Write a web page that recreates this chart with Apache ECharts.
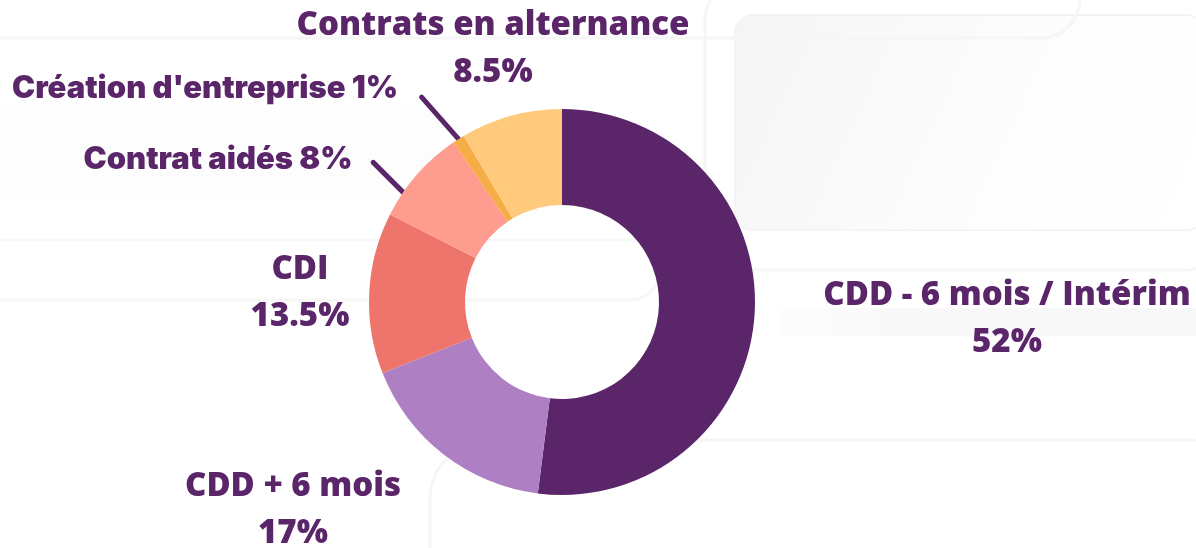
<!DOCTYPE html>
<html>
<head>
<meta charset="utf-8">
<script src="https://cdn.jsdelivr.net/npm/echarts@6/dist/echarts.min.js"></script>
<style>
html,body{margin:0;padding:0;background:#ffffff;}
#chart{width:1196px;height:548px;}
</style>
</head>
<body>
<div id="chart"></div>
<script>
// ---- data ----
var categories = ['CDD - 6 mois / Intérim', 'CDD + 6 mois', 'CDI', 'Contrat aidés', "Création d'entreprise", 'Contrats en alternance'];
var values = [52, 17, 13.5, 8, 1, 8.5];
var sliceColors = ['#5B2669', '#AF7FC4', '#EE756B', '#FF9C90', '#F7AD45', '#FFCA7B'];
var singleLine = [false, false, false, true, true, false];

// ---- label placement (styling) ----
var labelPos = [[1007, 319], [293, 510], [300, 293], [218, 160], [205, 89], [493, 49]];
var leaderOffsets = {3: [[-14, 18], [-44, -12]], 4: [[0, 0], [-37, -42]]};

var textColor = '#5B2569';
var mainFont = "'Open Sans', 'Noto Sans', sans-serif";
var data = categories.map(function (name, i) {
  var item = {
    name: name,
    value: values[i],
    itemStyle: {color: sliceColors[i]},
    label: singleLine[i] ? {
      formatter: '{b} {c}%',
      fontFamily: 'Inter',
      fontWeight: 900,
      fontSize: 31
    } : {
      formatter: '{b}\n{c}%',
      fontFamily: mainFont,
      fontWeight: 800,
      fontSize: 33
    }
  };
  if (leaderOffsets[i]) {
    item.labelLine = {show: true};
  }
  return item;
});

var chart = echarts.init(document.getElementById('chart'), null, {renderer: 'canvas'});
chart.setOption({
  backgroundColor: '#ffffff',
  animation: false,
  graphic: [
    {type: 'rect', shape: {x: 735, y: 15, width: 470, height: 215, r: 18}, style: {fill: {type: 'linear', x: 0, y: 0, x2: 1, y2: 1, colorStops: [{offset: 0, color: '#f5f5f5'}, {offset: 0.6, color: '#fdfdfd'}, {offset: 1, color: '#ffffff'}]}, stroke: '#f4f4f4', lineWidth: 2}, silent: true, z: -10},
    {type: 'rect', shape: {x: 705, y: -20, width: 520, height: 290, r: 40}, style: {fill: 'none', stroke: '#f6f6f6', lineWidth: 3}, silent: true, z: -10},
    {type: 'rect', shape: {x: -40, y: -40, width: 1120, height: 78, r: 40}, style: {fill: 'none', stroke: '#f6f6f6', lineWidth: 3}, silent: true, z: -10},
    {type: 'rect', shape: {x: 0, y: 110, width: 440, height: 90}, style: {fill: '#fdfdfd'}, silent: true, z: -11},
    {type: 'rect', shape: {x: -40, y: 240, width: 700, height: 60, r: 30}, style: {fill: 'none', stroke: '#f7f7f7', lineWidth: 3}, silent: true, z: -10},
    {type: 'rect', shape: {x: 780, y: 308, width: 420, height: 28}, style: {fill: {type: 'linear', x: 0, y: 0, x2: 1, y2: 0, colorStops: [{offset: 0, color: '#fdfdfd'}, {offset: 0.3, color: '#f8f8f8'}, {offset: 1, color: '#f8f8f8'}]}}, silent: true, z: -10},
    {type: 'rect', shape: {x: 430, y: 440, width: 820, height: 200, r: 60}, style: {fill: 'none', stroke: '#f6f6f6', lineWidth: 3}, silent: true, z: -10}
  ],
  series: [{
    type: 'pie',
    center: [562, 302],
    radius: [97, 193],
    startAngle: 90,
    clockwise: true,
    avoidLabelOverlap: false,
    silent: true,
    label: {
      show: true,
      position: 'outside',
      color: textColor,
      fontFamily: mainFont,
      fontWeight: 800,
      fontSize: 33,
      lineHeight: 47,
      align: 'center'
    },
    labelLine: {
      show: false,
      length: 40,
      length2: 0,
      smooth: false,
      lineStyle: {color: textColor, width: 5, cap: 'round'}
    },
    labelLayout: function (p) {
      var pos = labelPos[p.dataIndex];
      var res = {x: pos[0], y: pos[1], align: 'center', verticalAlign: 'middle'};
      var off = leaderOffsets[p.dataIndex];
      if (off && p.labelLinePoints) {
        var s = p.labelLinePoints[0];
        res.labelLinePoints = [
          [s[0] + off[0][0], s[1] + off[0][1]],
          [s[0] + off[1][0], s[1] + off[1][1]]
        ];
      }
      return res;
    },
    data: data
  }]
});
</script>
</body>
</html>
